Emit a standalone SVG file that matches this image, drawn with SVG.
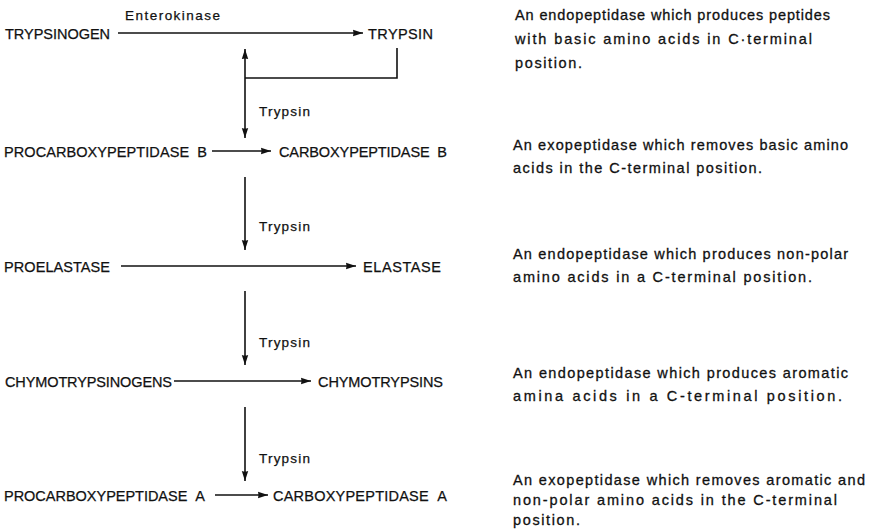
<svg xmlns="http://www.w3.org/2000/svg" width="874" height="531" viewBox="0 0 874 531">
<defs>
<style>
.n{font-family:"Liberation Sans",Arial,sans-serif;font-size:14.5px;fill:#111;stroke:#111;stroke-width:0.25}
.l{font-family:"Liberation Sans",Arial,sans-serif;font-size:13.5px;fill:#111;stroke:#111;stroke-width:0.25}
.d{font-family:"Liberation Sans",Arial,sans-serif;font-size:14.5px;fill:#111;stroke:#111;stroke-width:0.3}
.c{stroke:#111;stroke-width:1.6;fill:none}
</style>
<marker id="ah" viewBox="0 0 10 8" refX="10" refY="4" markerWidth="10" markerHeight="8" markerUnits="userSpaceOnUse" orient="auto-start-reverse">
<path d="M0,0.8 Q1,4 0,7.2 L10,4 Z" fill="#111"/>
</marker>
</defs>
<rect width="874" height="531" fill="#fff"/>
<g id="connectors">
<line class="c" x1="118" y1="33" x2="363" y2="33" marker-end="url(#ah)"/>
<line class="c" x1="245" y1="49" x2="245" y2="138" marker-start="url(#ah)" marker-end="url(#ah)"/>
<polyline class="c" points="397,48 397,78 245,78"/>
<line class="c" x1="212" y1="151" x2="271" y2="151" marker-end="url(#ah)"/>
<line class="c" x1="245" y1="177" x2="245" y2="250" marker-end="url(#ah)"/>
<line class="c" x1="121" y1="266" x2="356" y2="266" marker-end="url(#ah)"/>
<line class="c" x1="245" y1="291" x2="245" y2="365" marker-end="url(#ah)"/>
<line class="c" x1="174" y1="381" x2="311" y2="381" marker-end="url(#ah)"/>
<line class="c" x1="245" y1="407" x2="245" y2="481" marker-end="url(#ah)"/>
<line class="c" x1="215" y1="495" x2="268" y2="495" marker-end="url(#ah)"/>
<text class="l" x="125" y="20" textLength="95">Enterokinase</text>
<text class="l" x="259" y="116" textLength="51">Trypsin</text>
<text class="l" x="259" y="231" textLength="51">Trypsin</text>
<text class="l" x="259" y="347" textLength="51">Trypsin</text>
<text class="l" x="259" y="463" textLength="51">Trypsin</text>
</g>
<g id="trypsinogen"><text class="n" x="5" y="38.5" textLength="105">TRYPSINOGEN</text></g>
<g id="trypsin"><text class="n" x="368" y="38.5" textLength="65">TRYPSIN</text></g>
<g id="procarboxypeptidase-b"><text class="n" x="4" y="156.5" textLength="203">PROCARBOXYPEPTIDASE&#160;&#160;B</text></g>
<g id="carboxypeptidase-b"><text class="n" x="279" y="156.5" textLength="168">CARBOXYPEPTIDASE&#160;&#160;B</text></g>
<g id="proelastase"><text class="n" x="4" y="271.5" textLength="106">PROELASTASE</text></g>
<g id="elastase"><text class="n" x="363" y="271.5" textLength="78">ELASTASE</text></g>
<g id="chymotrypsinogens"><text class="n" x="5" y="386.5" textLength="167">CHYMOTRYPSINOGENS</text></g>
<g id="chymotrypsins"><text class="n" x="318" y="386.5" textLength="125">CHYMOTRYPSINS</text></g>
<g id="procarboxypeptidase-a"><text class="n" x="4" y="500.5" textLength="201">PROCARBOXYPEPTIDASE&#160;&#160;A</text></g>
<g id="carboxypeptidase-a"><text class="n" x="273" y="500.5" textLength="174">CARBOXYPEPTIDASE&#160;&#160;A</text></g>
<g id="desc-trypsin">
<text class="d" x="515" y="20" textLength="315">An endopeptidase which produces peptides</text>
<text class="d" x="515" y="44" textLength="297">with basic amino acids in C·terminal</text>
<text class="d" x="515" y="68" textLength="67">position.</text>
</g>
<g id="desc-carboxypeptidase-b">
<text class="d" x="513" y="150" textLength="335">An exopeptidase which removes basic amino</text>
<text class="d" x="513" y="173" textLength="249">acids in the C-terminal position.</text>
</g>
<g id="desc-elastase">
<text class="d" x="513" y="259" textLength="335">An endopeptidase which produces non-polar</text>
<text class="d" x="513" y="282" textLength="299">amino acids in a C-terminal position.</text>
</g>
<g id="desc-chymotrypsins">
<text class="d" x="513" y="378" textLength="335">An endopeptidase which produces aromatic</text>
<text class="d" x="513" y="401" textLength="329">amina acids in a C-terminal position.</text>
</g>
<g id="desc-carboxypeptidase-a">
<text class="d" x="513" y="485" textLength="352">An exopeptidase which removes aromatic and</text>
<text class="d" x="513" y="505" textLength="324">non-polar amino acids in the C-terminal</text>
<text class="d" x="513" y="525" textLength="67">position.</text>
</g>
</svg>
